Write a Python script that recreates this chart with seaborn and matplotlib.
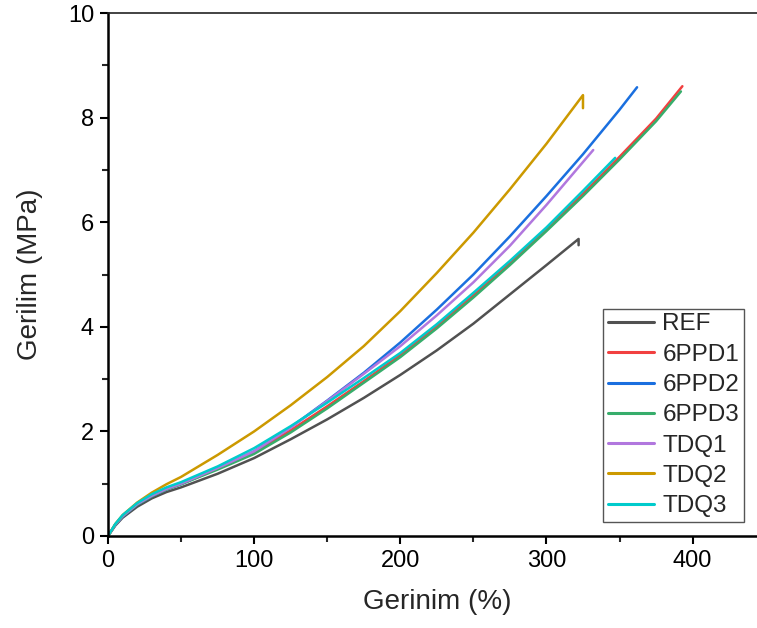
import numpy as np
import pandas as pd
import matplotlib
matplotlib.use("Agg")
import matplotlib.pyplot as plt
from matplotlib.ticker import MultipleLocator
from matplotlib.lines import Line2D
import seaborn as sns

# ---- data ----
series_names = ["REF", "6PPD1", "6PPD2", "6PPD3", "TDQ1", "TDQ2", "TDQ3"]
colors = ["#515151", "#F14040", "#1A6FDF", "#37AD6B", "#B177DE", "#CC9900", "#00CBCC"]

base_x = [0, 5, 10, 20, 30, 40, 50, 75, 100, 125, 150, 175, 200, 225, 250, 275, 300]

ref_x = base_x + [322, 322]
ref_y = [0, 0.20, 0.35, 0.56, 0.72, 0.84, 0.93, 1.19, 1.49, 1.85, 2.23, 2.64, 3.08, 3.55, 4.06, 4.62, 5.18, 5.68, 5.56]

ppd1_x = base_x + [325, 350, 375, 393]
ppd1_y = [0, 0.22, 0.38, 0.61, 0.77, 0.90, 1.00, 1.29, 1.60, 2.02, 2.48, 2.96, 3.46, 4.01, 4.60, 5.22, 5.87, 6.54, 7.25, 7.98, 8.60]

ppd2_x = base_x + [325, 350, 362]
ppd2_y = [0, 0.21, 0.37, 0.60, 0.76, 0.89, 0.99, 1.29, 1.62, 2.08, 2.59, 3.12, 3.70, 4.33, 5.00, 5.73, 6.50, 7.30, 8.15, 8.58]

ppd3_x = base_x + [325, 350, 375, 392]
ppd3_y = [0, 0.22, 0.38, 0.60, 0.76, 0.89, 0.99, 1.27, 1.57, 1.98, 2.44, 2.93, 3.42, 3.97, 4.56, 5.18, 5.83, 6.50, 7.20, 7.93, 8.50]

tdq1_x = base_x + [332]
tdq1_y = [0, 0.22, 0.38, 0.61, 0.77, 0.90, 1.00, 1.30, 1.62, 2.07, 2.58, 3.10, 3.63, 4.22, 4.85, 5.55, 6.33, 7.38]

tdq2_x = base_x + [325, 325]
tdq2_y = [0, 0.23, 0.40, 0.64, 0.83, 0.99, 1.13, 1.55, 2.00, 2.50, 3.04, 3.63, 4.30, 5.03, 5.80, 6.63, 7.50, 8.43, 8.18]

tdq3_x = base_x + [325, 347]
tdq3_y = [0, 0.23, 0.40, 0.63, 0.80, 0.93, 1.03, 1.33, 1.68, 2.10, 2.55, 3.02, 3.50, 4.05, 4.65, 5.26, 5.90, 6.60, 7.23]

xs = [ref_x, ppd1_x, ppd2_x, ppd3_x, tdq1_x, tdq2_x, tdq3_x]
ys = [ref_y, ppd1_y, ppd2_y, ppd3_y, tdq1_y, tdq2_y, tdq3_y]

frames = []
for name, x, y in zip(series_names, xs, ys):
    frames.append(pd.DataFrame({"strain": x, "stress": y, "sample": name}))
df = pd.concat(frames, ignore_index=True)

# ---- figure ----
sns.set_style("ticks")
plt.rcParams["font.family"] = ["Liberation Sans", "DejaVu Sans"]

W, H = 757, 628
fig = plt.figure(figsize=(W / 100, H / 100), dpi=100)
x0_px, y0_px, ytop_px = 108, 536, 13
px_per_x = 1.4615
xmax = 450
ax = fig.add_axes([x0_px / W, (H - y0_px) / H, xmax * px_per_x / W, (y0_px - ytop_px) / H])

sns.lineplot(data=df, x="strain", y="stress", hue="sample", hue_order=series_names,
             palette=dict(zip(series_names, colors)), sort=False, estimator=None,
             units="sample", lw=1.8, ax=ax, legend=False)

ax.set_xlim(0, xmax)
ax.set_ylim(0, 10)
ax.xaxis.set_major_locator(MultipleLocator(100))
ax.xaxis.set_minor_locator(MultipleLocator(50))
ax.yaxis.set_major_locator(MultipleLocator(2))
ax.yaxis.set_minor_locator(MultipleLocator(1))
ax.tick_params(axis="both", which="major", direction="out", length=6, width=1.5,
               labelsize=17, colors="black", pad=4)
ax.tick_params(axis="both", which="minor", direction="out", length=4, width=1.5)
ax.tick_params(top=False, right=False, which="both")

for s in ["left", "bottom"]:
    ax.spines[s].set_linewidth(1.8)
    ax.spines[s].set_color("black")
ax.spines["top"].set_visible(True)
ax.spines["top"].set_linewidth(1.2)
ax.spines["top"].set_color("#222222")
ax.spines["right"].set_visible(False)

ax.set_xlabel("Gerinim (%)", fontsize=20, labelpad=12)
ax.set_ylabel("Gerilim (MPa)", fontsize=20, labelpad=18)

handles = [Line2D([0], [0], color=c, lw=2.2) for c in colors]
leg = fig.legend(handles, series_names, loc="lower right",
                 bbox_to_anchor=(744 / W, (H - 522) / H), bbox_transform=fig.transFigure,
                 fontsize=17.5, frameon=True, fancybox=False, framealpha=1,
                 edgecolor="#555555", borderaxespad=0, handlelength=1.9,
                 handletextpad=0.35, labelspacing=0.34, borderpad=0.2)
leg.get_frame().set_linewidth(1.0)

fig.savefig("out.png", dpi=100)
